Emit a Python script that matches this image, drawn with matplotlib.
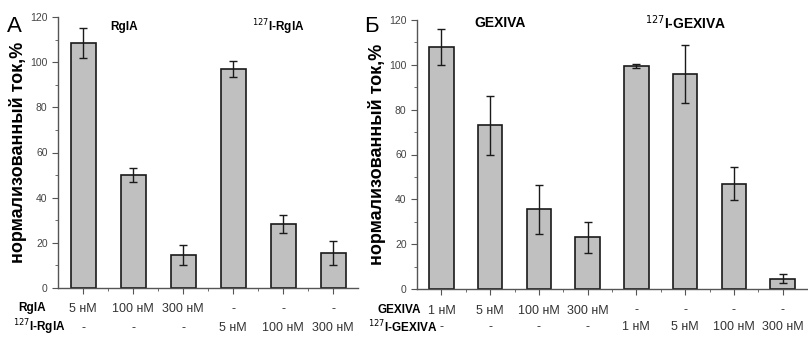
import matplotlib.pyplot as plt
import numpy as np
from matplotlib.ticker import MultipleLocator

plt.rcParams['font.family'] = ['Liberation Sans', 'DejaVu Sans']

# panel A data
rgla_vals = [108.5, 50, 14.5, 97, 28.5, 15.5]
rgla_err = [6.5, 3, 4.5, 3.5, 4, 5.5]
rgla_row1 = ['5 нМ', '100 нМ', '300 нМ', '-', '-', '-']
rgla_row2 = ['-', '-', '-', '5 нМ', '100 нМ', '300 нМ']

# panel B data
gex_vals = [108, 73, 35.5, 23, 99.5, 96, 47, 4.5]
gex_err = [8, 13, 11, 7, 0.7, 13, 7.5, 2]
gex_row1 = ['1 нМ', '5 нМ', '100 нМ', '300 нМ', '-', '-', '-', '-']
gex_row2 = ['-', '-', '-', '-', '1 нМ', '5 нМ', '100 нМ', '300 нМ']

W, H = 808, 337
fig = plt.figure(figsize=(W / 100, H / 100), dpi=100)
axA = fig.add_axes([58 / W, 1 - 288 / H, 300 / W, 271 / H])
axB = fig.add_axes([417 / W, 1 - 289 / H, 390 / W, 269 / H])

def draw_panel(ax, vals, errs, row1, row2, y1, y2):
    n = len(vals)
    x = np.arange(n) + 0.5
    ax.bar(x, vals, width=0.5, color='#c0c0c0', edgecolor='#1a1a1a', linewidth=1.2, zorder=2)
    ax.errorbar(x, vals, yerr=errs, fmt='none', ecolor='#1a1a1a', elinewidth=1.0,
                capsize=3, capthick=1.0, zorder=3)
    ax.set_xlim(0, n)
    ax.set_ylim(0, 120)
    ax.yaxis.set_major_locator(MultipleLocator(20))
    ax.yaxis.set_minor_locator(MultipleLocator(10))
    ax.set_xticks(x)
    ax.set_xticks(np.arange(1, n), minor=True)
    ax.set_xticklabels([])
    for s in ['top', 'right']:
        ax.spines[s].set_visible(False)
    for s in ['left', 'bottom']:
        ax.spines[s].set_color('#555555')
        ax.spines[s].set_linewidth(1.0)
    ax.tick_params(axis='both', which='major', direction='out', length=4, color='#555555',
                   labelsize=7.5, labelcolor='#444444')
    ax.tick_params(axis='both', which='minor', direction='out', length=2.5, color='#555555')
    ax.set_ylabel('нормализованный ток,%', fontsize=13, fontweight='bold', labelpad=2)
    for xi, a, b in zip(x, row1, row2):
        ax.text(xi, y1, a, transform=ax.get_xaxis_transform(), ha='center', va='center',
                fontsize=9, color='#333333')
        ax.text(xi, y2, b, transform=ax.get_xaxis_transform(), ha='center', va='center',
                fontsize=9, color='#333333')

draw_panel(axA, rgla_vals, rgla_err, rgla_row1, rgla_row2, -0.0775, -0.148)
draw_panel(axB, gex_vals, gex_err, gex_row1, gex_row2, -0.08, -0.142)

# row labels
fig.text(18 / W, 1 - 308 / H, 'RglA', ha='left', va='center', fontsize=8.5, fontweight='bold')
fig.text(13 / W, 1 - 327 / H, r'$^{127}$I-RglA', ha='left', va='center', fontsize=8.5, fontweight='bold')
fig.text(377 / W, 1 - 310 / H, 'GEXIVA', ha='left', va='center', fontsize=8.5, fontweight='bold')
fig.text(368 / W, 1 - 327 / H, r'$^{127}$I-GEXIVA', ha='left', va='center', fontsize=8.5, fontweight='bold')

# panel titles
fig.text(124 / W, 1 - 27 / H, 'RglA', ha='center', va='center', fontsize=8.5, fontweight='bold')
fig.text(278 / W, 1 - 27 / H, r'$^{127}$I-RglA', ha='center', va='center', fontsize=8.5, fontweight='bold')
fig.text(500 / W, 1 - 23 / H, 'GEXIVA', ha='center', va='center', fontsize=10, fontweight='bold')
fig.text(686 / W, 1 - 23 / H, r'$^{127}$I-GEXIVA', ha='center', va='center', fontsize=10, fontweight='bold')

# panel letters
fig.text(14 / W, 1 - 26 / H, 'А', ha='center', va='center', fontsize=16)
fig.text(371 / W, 1 - 27 / H, 'Б', ha='center', va='center', fontsize=16)

fig.savefig('out.png', dpi=100)
